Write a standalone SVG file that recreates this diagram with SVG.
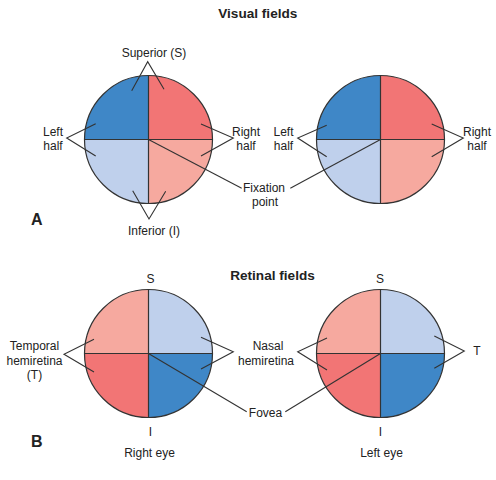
<svg xmlns="http://www.w3.org/2000/svg" width="496" height="480" viewBox="0 0 496 480">
<style>
text{font-family:"Liberation Sans",Arial,sans-serif;fill:#222;font-size:12px;text-anchor:middle}
.t{font-weight:bold;font-size:13.6px}
.l{font-weight:bold;font-size:16px;text-anchor:start}
.db{fill:#3f87c7}.rd{fill:#f27575}.lb{fill:#bfd0ec}.sa{fill:#f6a99f}
.ol{fill:none;stroke:#333;stroke-width:1.2}
.ln{fill:none;stroke:#333;stroke-width:1.1}
</style>
<defs>
<path id="qTL" d="M0 0H-64A64 64 0 0 1 0-64Z"/>
<path id="qTR" d="M0 0V-64A64 64 0 0 1 64 0Z"/>
<path id="qBR" d="M0 0H64A64 64 0 0 1 0 64Z"/>
<path id="qBL" d="M0 0V64A64 64 0 0 1-64 0Z"/>
<g id="outline" class="ol"><circle r="64"/><path d="M-64 0H64M0-64V64"/></g>
</defs>
<rect width="496" height="480" fill="#fff"/>
<text class="t" x="257.8" y="17.5">Visual fields</text>
<text class="t" x="272.5" y="280">Retinal fields</text>
<text class="l" x="31" y="225">A</text>
<text class="l" x="31" y="447">B</text>

<g id="visual-left" transform="translate(148.5,139.5)">
<use href="#qTL" class="db"/><use href="#qTR" class="rd"/><use href="#qBR" class="sa"/><use href="#qBL" class="lb"/>
<use href="#outline"/>
</g>
<g id="visual-right" transform="translate(380.5,139.5)">
<use href="#qTL" class="db"/><use href="#qTR" class="rd"/><use href="#qBR" class="sa"/><use href="#qBL" class="lb"/>
<use href="#outline"/>
</g>
<g id="retina-right-eye" transform="translate(148.5,353.5)">
<use href="#qTL" class="sa"/><use href="#qTR" class="lb"/><use href="#qBR" class="db"/><use href="#qBL" class="rd"/>
<use href="#outline"/>
</g>
<g id="retina-left-eye" transform="translate(380.5,353.5)">
<use href="#qTL" class="sa"/><use href="#qTR" class="lb"/><use href="#qBR" class="db"/><use href="#qBL" class="rd"/>
<use href="#outline"/>
</g>

<g id="connectors" class="ln">
<path d="M131.7 90.7L147.7 61.7L164 89.3"/>
<path d="M95.7 123.7L66.7 138L95.7 156"/>
<path d="M201 124L233.3 138L201 156"/>
<path d="M132.7 190.7L149 219L165.7 191.3"/>
<path d="M148.5 139.5L241.7 188.3"/>
<path d="M380.5 139.5L290.3 188.3"/>
<path d="M326.7 125.3L297.7 138L326.7 156.7"/>
<path d="M431.7 124L463.3 138L431.7 156.7"/>
<path d="M94 339.3L64 354.3L94 372"/>
<path d="M201 337.3L233.3 351.7L201 369"/>
<path d="M327 338L297.7 351.7L327 370"/>
<path d="M434.3 336L464.3 351L434.3 368.3"/>
<path d="M148.5 353.5L246.7 411.7"/>
<path d="M380.5 353.5L285.3 411.7"/>
</g>

<g id="labels">
<text x="154" y="57">Superior (S)</text>
<text x="53" y="136">Left</text><text x="53" y="150">half</text>
<text x="246" y="136">Right</text><text x="246" y="150">half</text>
<text x="283.5" y="136">Left</text><text x="283.5" y="150">half</text>
<text x="477" y="136">Right</text><text x="477" y="150">half</text>
<text x="264" y="192">Fixation</text><text x="265" y="206">point</text>
<text x="154" y="235">Inferior (I)</text>
<text x="150.5" y="283">S</text><text x="380" y="283">S</text>
<text x="34.5" y="350">Temporal</text><text x="34.5" y="364.5">hemiretina</text><text x="34.5" y="379">(T)</text>
<text x="268" y="350">Nasal</text><text x="266" y="364.5">hemiretina</text>
<text x="477" y="355">T</text>
<text x="265.5" y="416.5">Fovea</text>
<text x="150.5" y="436">I</text><text x="380.5" y="436">I</text>
<text x="149.5" y="456.5">Right eye</text><text x="381.5" y="456.5">Left eye</text>
</g>
</svg>
